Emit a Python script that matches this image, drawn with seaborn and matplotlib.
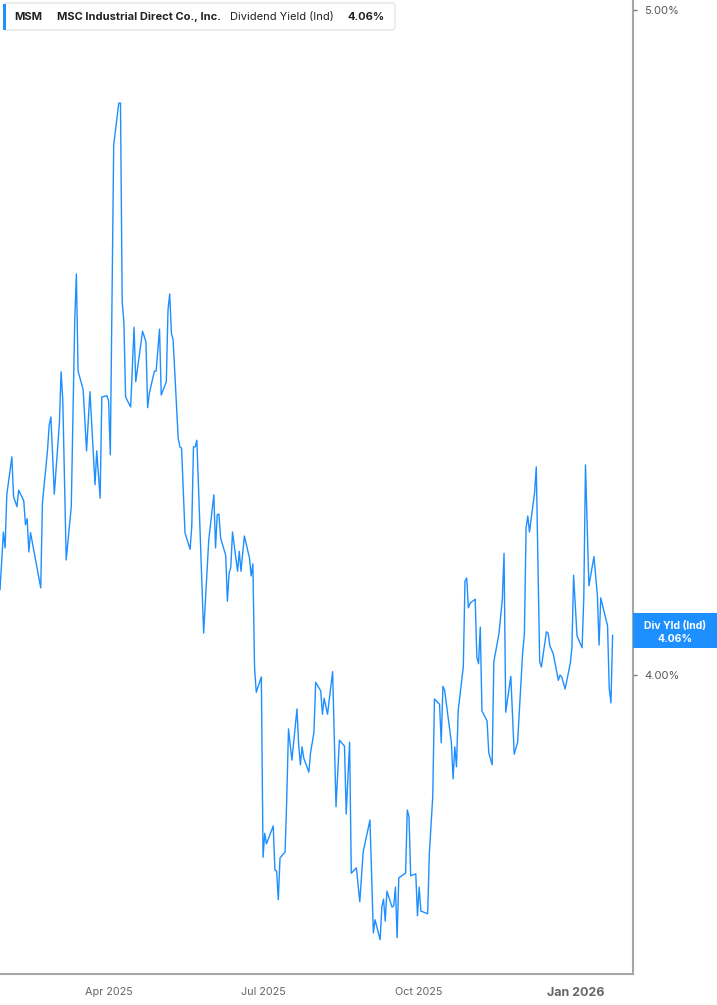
import pandas as pd
import matplotlib.pyplot as plt
from matplotlib.patches import FancyBboxPatch, Rectangle
import seaborn as sns

# Dividend yield (Ind) for MSM
dates = [
    "2025-01-27", "2025-01-29", "2025-01-30", "2025-01-31", "2025-02-03", "2025-02-04",
    "2025-02-06", "2025-02-07", "2025-02-10", "2025-02-11", "2025-02-12", "2025-02-13",
    "2025-02-14", "2025-02-20", "2025-02-21", "2025-02-24", "2025-02-25", "2025-02-26",
    "2025-02-28", "2025-03-03", "2025-03-04", "2025-03-05", "2025-03-07", "2025-03-10",
    "2025-03-12", "2025-03-13", "2025-03-14", "2025-03-17", "2025-03-19", "2025-03-21",
    "2025-03-24", "2025-03-25", "2025-03-27", "2025-03-28", "2025-03-31", "2025-04-01",
    "2025-04-02", "2025-04-04", "2025-04-07", "2025-04-08", "2025-04-09", "2025-04-10",
    "2025-04-11", "2025-04-14", "2025-04-16", "2025-04-17", "2025-04-21", "2025-04-23",
    "2025-04-24", "2025-04-25", "2025-04-28", "2025-04-29", "2025-05-01", "2025-05-02",
    "2025-05-05", "2025-05-06", "2025-05-07", "2025-05-08", "2025-05-09", "2025-05-12",
    "2025-05-13", "2025-05-14", "2025-05-16", "2025-05-19", "2025-05-20", "2025-05-21",
    "2025-05-22", "2025-05-23", "2025-05-27", "2025-05-30", "2025-06-02", "2025-06-03",
    "2025-06-04", "2025-06-05", "2025-06-06", "2025-06-09", "2025-06-10", "2025-06-11",
    "2025-06-12", "2025-06-13", "2025-06-16", "2025-06-17", "2025-06-18", "2025-06-20",
    "2025-06-23", "2025-06-24", "2025-06-25", "2025-06-26", "2025-06-27", "2025-06-30",
    "2025-07-01", "2025-07-02", "2025-07-03", "2025-07-07", "2025-07-08", "2025-07-09",
    "2025-07-10", "2025-07-11", "2025-07-14", "2025-07-15", "2025-07-16", "2025-07-18",
    "2025-07-21", "2025-07-22", "2025-07-23", "2025-07-24", "2025-07-25", "2025-07-28",
    "2025-07-29", "2025-07-31", "2025-08-01", "2025-08-04", "2025-08-05", "2025-08-06",
    "2025-08-08", "2025-08-11", "2025-08-13", "2025-08-15", "2025-08-18", "2025-08-19",
    "2025-08-21", "2025-08-22", "2025-08-25", "2025-08-27", "2025-08-29", "2025-09-02",
    "2025-09-04", "2025-09-05", "2025-09-08", "2025-09-09", "2025-09-10", "2025-09-11",
    "2025-09-12", "2025-09-15", "2025-09-16", "2025-09-17", "2025-09-18", "2025-09-19",
    "2025-09-23", "2025-09-24", "2025-09-25", "2025-09-26", "2025-09-29", "2025-09-30",
    "2025-10-01", "2025-10-02", "2025-10-06", "2025-10-07", "2025-10-09", "2025-10-10",
    "2025-10-13", "2025-10-14", "2025-10-15", "2025-10-16", "2025-10-20", "2025-10-21",
    "2025-10-22", "2025-10-23", "2025-10-24", "2025-10-27", "2025-10-28", "2025-10-29",
    "2025-10-30", "2025-10-31", "2025-11-03", "2025-11-04", "2025-11-05", "2025-11-06",
    "2025-11-07", "2025-11-10", "2025-11-11", "2025-11-13", "2025-11-14", "2025-11-17",
    "2025-11-19", "2025-11-20", "2025-11-21", "2025-11-24", "2025-11-26", "2025-11-28",
    "2025-12-01", "2025-12-02", "2025-12-03", "2025-12-04", "2025-12-05", "2025-12-08",
    "2025-12-09", "2025-12-11", "2025-12-12", "2025-12-15", "2025-12-16", "2025-12-17",
    "2025-12-19", "2025-12-22", "2025-12-23", "2025-12-24", "2025-12-26", "2025-12-29",
    "2025-12-30", "2025-12-31", "2026-01-02", "2026-01-05", "2026-01-06", "2026-01-07",
    "2026-01-09", "2026-01-12", "2026-01-14", "2026-01-15", "2026-01-16", "2026-01-20",
    "2026-01-21", "2026-01-22", "2026-01-23",
]

div_yield = [
    4.128, 4.215, 4.191, 4.271, 4.328, 4.268,
    4.253, 4.278, 4.262, 4.226, 4.235, 4.185,
    4.214, 4.131, 4.259, 4.338, 4.376, 4.388,
    4.272, 4.379, 4.456, 4.414, 4.173, 4.253,
    4.529, 4.603, 4.457, 4.429, 4.337, 4.426,
    4.286, 4.337, 4.266, 4.418, 4.420, 4.412,
    4.331, 4.797, 4.860, 4.860, 4.561, 4.531,
    4.418, 4.403, 4.523, 4.441, 4.517, 4.501,
    4.402, 4.424, 4.457, 4.457, 4.520, 4.421,
    4.441, 4.549, 4.573, 4.514, 4.504, 4.356,
    4.343, 4.341, 4.214, 4.189, 4.223, 4.343,
    4.343, 4.353, 4.063, 4.203, 4.271, 4.191,
    4.241, 4.242, 4.206, 4.180, 4.111, 4.153,
    4.162, 4.215, 4.156, 4.186, 4.156, 4.209,
    4.176, 4.149, 4.167, 4.011, 3.974, 3.997,
    3.726, 3.762, 3.746, 3.773, 3.707, 3.705,
    3.662, 3.725, 3.734, 3.817, 3.919, 3.872,
    3.949, 3.895, 3.865, 3.892, 3.875, 3.854,
    3.883, 3.914, 3.989, 3.976, 3.941, 3.965,
    3.941, 4.005, 3.802, 3.902, 3.893, 3.791,
    3.899, 3.702, 3.710, 3.659, 3.734, 3.782,
    3.612, 3.632, 3.602, 3.651, 3.663, 3.630,
    3.675, 3.651, 3.653, 3.681, 3.605, 3.695,
    3.702, 3.797, 3.787, 3.698, 3.701, 3.638,
    3.681, 3.645, 3.641, 3.732, 3.817, 3.964,
    3.956, 3.898, 3.983, 3.977, 3.898, 3.844,
    3.892, 3.862, 3.947, 4.012, 4.141, 4.146,
    4.101, 4.108, 4.114, 4.027, 4.017, 4.072,
    3.946, 3.931, 3.883, 3.865, 4.020, 4.062,
    4.114, 4.183, 3.944, 3.998, 3.881, 3.899,
    4.035, 4.062, 4.221, 4.239, 4.215, 4.274,
    4.313, 4.020, 4.012, 4.065, 4.063, 4.044,
    4.032, 3.992, 4.000, 3.997, 3.979, 4.017,
    4.041, 4.150, 4.059, 4.041, 4.116, 4.316,
    4.134, 4.178, 4.120, 4.045, 4.116, 4.074,
    3.980, 3.958, 4.060,
]

y_ticks = [4.0, 5.0]
x_ticks = ["2025-04-01", "2025-07-01", "2025-10-01", "2026-01-01"]
x_tick_labels = ["Apr 2025", "Jul 2025", "Oct 2025", "Jan 2026"]

df = pd.DataFrame({"date": pd.to_datetime(dates), "yield": div_yield})

sns.set_style("white")
plt.rcParams["font.family"] = ["Inter", "DejaVu Sans"]

W, H = 717, 1005
BLUE = "#1e8fff"
GRAY = "#a6a6a6"


def fx(x):
    return x / W


def fy(y):
    return 1 - y / H


fig = plt.figure(figsize=(W / 100, H / 100), dpi=100)
ax = fig.add_axes([0, fy(974), fx(633), 974 / H])

sns.lineplot(data=df, x="date", y="yield", ax=ax, color=BLUE, linewidth=1.0)

ax.set_xlim(pd.Timestamp("2025-01-27"), pd.Timestamp("2026-02-04"))
ax.set_ylim(3.5504, 5.015)
ax.set_xlabel("")
ax.set_ylabel("")

for side in ["top", "left"]:
    ax.spines[side].set_visible(False)
for side in ["right", "bottom"]:
    ax.spines[side].set_color(GRAY)
    ax.spines[side].set_linewidth(1.5)

ax.yaxis.tick_right()
ax.set_yticks(y_ticks)
ax.set_yticklabels([f"{v:.2f}%" for v in y_ticks])
ax.tick_params(axis="y", length=3, width=1, colors="#777777", labelcolor="#555555",
               labelsize=8, pad=5)

ax.set_xticks(pd.to_datetime(x_ticks))
ax.set_xticklabels(x_tick_labels)
ax.tick_params(axis="x", length=5, width=1, colors=GRAY, labelcolor="#666666",
               labelsize=7.8, pad=4)
ax.get_xticklabels()[-1].set_fontweight("bold")
ax.get_xticklabels()[-1].set_fontsize(9)

# header box
fig.patches.append(FancyBboxPatch((fx(4), fy(30)), fx(391), 27 / H,
                                  boxstyle="round,pad=0,rounding_size=0.004",
                                  transform=fig.transFigure, facecolor="white",
                                  edgecolor="#e4e4e4", linewidth=1))
fig.patches.append(Rectangle((fx(3), fy(30)), fx(3), 26 / H, transform=fig.transFigure,
                             facecolor=BLUE, edgecolor="none"))
hy = fy(17)
fig.text(fx(14), hy, "MSM", fontsize=8, fontweight="bold", color="#222222", va="center")
fig.text(fx(57), hy, "MSC Industrial Direct Co., Inc.", fontsize=8, fontweight="bold",
         color="#222222", va="center")
fig.text(fx(230), hy, "Dividend Yield (Ind)", fontsize=8, color="#222222", va="center")
fig.text(fx(348), hy, "4.06%", fontsize=8, fontweight="bold", color="#222222", va="center")

# last value tag
fig.patches.append(Rectangle((fx(633), fy(648)), fx(84), 35 / H, transform=fig.transFigure,
                             facecolor=BLUE, edgecolor="none"))
fig.text(fx(675), fy(626), "Div Yld (Ind)", fontsize=7.5, fontweight="bold", color="white",
         ha="center", va="center")
fig.text(fx(675), fy(639), "4.06%", fontsize=7.5, fontweight="bold", color="white",
         ha="center", va="center")

plt.savefig("out.png", dpi=100)
